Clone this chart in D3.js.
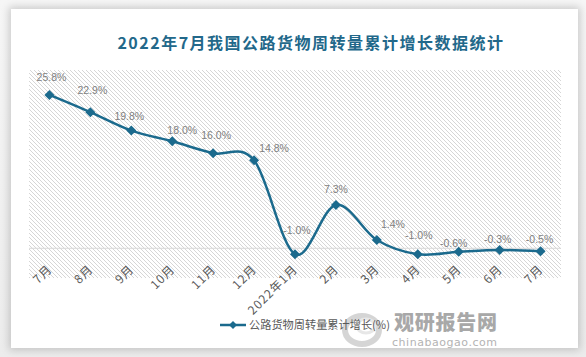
<!DOCTYPE html>
<html>
<head>
<meta charset="utf-8">
<script src="https://cdn.jsdelivr.net/npm/d3@7"></script>
<style>
  html, body { margin: 0; padding: 0; background: #f4f4f4; }
  #wrap { position: relative; width: 586px; height: 357px; overflow: hidden; background: linear-gradient(#f6f6f6, #ececec); }
  #card { position: absolute; left: 11px; top: 9px; width: 567px; height: 339px; background: #fff; box-shadow: 0 0 8px 2px rgba(0,0,0,0.18); }
  svg { position: absolute; left: 0; top: 0; }
</style>
</head>
<body>
<div id="wrap"><div id="card"></div></div>
<script>
const title = "2022年7月我国公路货物周转量累计增长数据统计";
const seriesName = "公路货物周转量累计增长(%)";
const categories = ["7月","8月","9月","10月","11月","12月","2022年1月","2月","3月","4月","5月","6月","7月"];
const values = [25.8, 22.9, 19.8, 18.0, 16.0, 14.8, -1.0, 7.3, 1.4, -1.0, -0.6, -0.3, -0.5];
const yDomain = [-5, 30];
// label offsets (dx, dy) relative to each point, as placed in the original
const labelDx = [2, 2, -2, 10, 3, 20, 2, 0, 16, 1, -5, -2, -1];
const labelDy = [-14, -18, -11, -7, -14, -8, -20, -12, -12, -15, -5, -7, -8];

const W = 586, H = 357;
const plot = {left: 29, right: 561, top: 70, bottom: 278};
const blue = "#1b6a8d";

const svg = d3.select("#wrap").append("svg").attr("width", W).attr("height", H);
const defs = svg.append("defs");
const pat = defs.append("pattern").attr("id", "hatch").attr("patternUnits", "userSpaceOnUse")
  .attr("width", 4).attr("height", 4);
pat.append("rect").attr("width", 4).attr("height", 4).attr("fill", "#fff");
pat.append("path").attr("d", "M-1,-1 L5,5 M-1,3 L1,5 M3,-1 L5,1")
  .attr("stroke", "#d6d6d6").attr("stroke-width", 1);

const x = d3.scalePoint().domain(d3.range(categories.length))
  .range([plot.left, plot.right]).padding(0.5);
const y = d3.scaleLinear().domain(yDomain).range([plot.bottom, plot.top]);

svg.append("rect").attr("x", plot.left).attr("y", plot.top)
  .attr("width", plot.right - plot.left).attr("height", plot.bottom - plot.top)
  .attr("fill", "url(#hatch)");

// zero line
svg.append("line").attr("x1", plot.left).attr("x2", plot.right)
  .attr("y1", y(0)).attr("y2", y(0)).attr("stroke", "#d9d9d9").attr("stroke-width", 1);

// title
svg.append("text").attr("x", 311).attr("y", 49).attr("text-anchor", "middle")
  .attr("font-family", "'Noto Sans CJK SC', sans-serif").attr("font-weight", "bold")
  .attr("font-size", 16).attr("letter-spacing", 1.5).attr("fill", "#22688a").text(title);

// x axis labels
const xAxis = d3.axisBottom(x).tickSize(0).tickFormat(i => categories[i]);
const gx = svg.append("g").attr("transform", `translate(0,${plot.bottom - 11})`).call(xAxis);
gx.select(".domain").remove();
gx.selectAll("text")
  .attr("font-family", "'Noto Sans CJK SC', sans-serif").attr("font-size", 12)
  .attr("letter-spacing", 1)
  .attr("fill", "#595959").attr("text-anchor", "end")
  .attr("dy", "0.35em").attr("dx", 0).attr("y", 0)
  .attr("transform", "translate(0,0) rotate(-45)");

// line
const line = d3.line().x((d, i) => x(i)).y(d => y(d)).curve(d3.curveCardinal.tension(0));
svg.append("path").datum(values).attr("d", line)
  .attr("fill", "none").attr("stroke", blue).attr("stroke-width", 2.5);

const diamond = "M0,-5 L5,0 L0,5 L-5,0 Z";
svg.selectAll(".pt").data(values).join("path").attr("class", "pt")
  .attr("d", diamond).attr("transform", (d, i) => `translate(${x(i)},${y(d)})`)
  .attr("fill", blue);

svg.selectAll(".lbl").data(values).join("text").attr("class", "lbl")
  .attr("x", (d, i) => x(i) + labelDx[i]).attr("y", (d, i) => y(d) + labelDy[i])
  .attr("text-anchor", "middle").attr("font-family", "'Liberation Sans', Arial, sans-serif")
  .attr("font-size", 10.5).attr("fill", "#7f7f7f")
  .text(d => d.toFixed(1) + "%");

// watermark
const wm = svg.append("g").attr("opacity", 0.75);
wm.append("ellipse").attr("cx", 362).attr("cy", 330).attr("rx", 17).attr("ry", 14)
  .attr("fill", "none").attr("stroke", "#c8c8c8").attr("stroke-width", 6);
wm.append("ellipse").attr("cx", 366).attr("cy", 326).attr("rx", 9).attr("ry", 7)
  .attr("fill", "none").attr("stroke", "#e0e0e0").attr("stroke-width", 3);
wm.append("text").attr("x", 394).attr("y", 330)
  .attr("font-family", "'Noto Sans CJK SC', sans-serif").attr("font-weight", "900")
  .attr("font-size", 20).attr("textLength", 103).attr("fill", "#8c8c8c").text("观研报告网");
wm.append("text").attr("x", 392).attr("y", 346)
  .attr("font-family", "'DejaVu Sans', sans-serif")
  .attr("font-size", 11).attr("textLength", 105).attr("fill", "#9a9a9a").text("chinabaogao.com");

// legend
const lg = svg.append("g").attr("transform", "translate(220,325)");
lg.append("line").attr("x1", 0).attr("x2", 26).attr("stroke", blue).attr("stroke-width", 2.5);
lg.append("path").attr("d", "M0,-4 L4,0 L0,4 L-4,0 Z").attr("transform", "translate(13,0)").attr("fill", blue);
lg.append("text").attr("x", 29).attr("y", 0).attr("dy", "0.35em")
  .attr("font-family", "'Noto Sans CJK SC', sans-serif").attr("font-size", 11.2)
  .attr("fill", "#595959").text(seriesName);
</script>
</body>
</html>
